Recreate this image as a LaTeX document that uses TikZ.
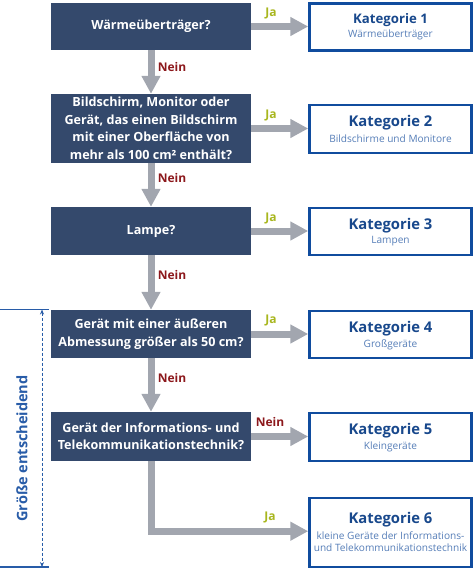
\documentclass[tikz,border=0pt]{standalone}
\usepackage{fontspec}
\setmainfont{Open Sans}
\usetikzlibrary{arrows.meta}
\definecolor{qfill}{RGB}{52,73,108}
\definecolor{agray}{RGB}{162,166,175}
\definecolor{kborder}{RGB}{16,76,158}
\definecolor{ktitle}{RGB}{24,72,140}
\definecolor{ksub}{RGB}{86,126,184}
\definecolor{jacol}{RGB}{168,182,30}
\definecolor{neincol}{RGB}{140,24,28}
\definecolor{sizecol}{RGB}{40,92,168}
\begin{document}
\begin{tikzpicture}[x=1pt,y=-1pt,
  qbox/.style={fill=qfill,text=white,minimum width=200pt,inner sep=0pt,align=center,
    font=\fontsize{12.6}{17.5}\selectfont\bfseries},
  kbox/.style={draw=kborder,line width=2.5pt,fill=white,minimum width=162pt,inner sep=0pt,align=center},
  ktit/.style={font=\fontsize{14.8}{16}\selectfont\bfseries,text=ktitle},
  ksubt/.style={text=ksub,font=\fontsize{10.1}{12.5}\selectfont,align=center},
  flow/.style={draw=agray,line width=7pt,-{Triangle[width=18pt,length=18pt]}},
  jalab/.style={text=jacol,font=\fontsize{12}{14}\selectfont\bfseries},
  neinlab/.style={text=neincol,font=\fontsize{12}{14}\selectfont\bfseries}]
\useasboundingbox (0,0) rectangle (474,573);
% question boxes
\node[qbox,minimum height=47pt] (q1) at (151,26.5) {Wärmeüberträger?};
\node[qbox,minimum height=69pt] (q2) at (151,128.5) {Bildschirm, Monitor oder\\Gerät, das einen Bildschirm\\mit einer Oberfläche von\\mehr als 100 cm² enthält?};
\node[qbox,minimum height=48pt] (q3) at (151,231) {Lampe?};
\node[qbox,minimum height=48pt] (q4) at (151,334) {Gerät mit einer äußeren\\Abmessung größer als 50 cm?};
\node[qbox,minimum height=49pt] (q5) at (151,436.5) {Gerät der Informations- und\\Telekommunikationstechnik?};
% category boxes
\node[kbox,minimum height=47pt] (k1) at (390.5,27) {};
\node[kbox,minimum height=48pt] (k2) at (390.5,129) {};
\node[kbox,minimum height=47pt] (k3) at (390.5,231.5) {};
\node[kbox,minimum height=47pt] (k4) at (390.5,334.5) {};
\node[kbox,minimum height=48pt] (k5) at (390.5,437) {};
\node[kbox,minimum height=69pt] (k6) at (390.5,532.5) {};
\node[ktit,font=\fontsize{13.2}{14}\selectfont\bfseries] (t1) at (390.5,20) {Kategorie 1};
\node[ksubt] (s1) at (390.5,34.5) {Wärmeüberträger};
\node[ktit] (t2) at (390.5,123) {Kategorie 2};
\node[ksubt] (s2) at (390.5,138.5) {Bildschirme und Monitore};
\node[ktit] (t3) at (390.5,226) {Kategorie 3};
\node[ksubt] (s3) at (390.5,241.5) {Lampen};
\node[ktit] (t4) at (390.5,329) {Kategorie 4};
\node[ksubt] (s4) at (390.5,344.5) {Großgeräte};
\node[ktit] (t5) at (390.5,431) {Kategorie 5};
\node[ksubt] (s5) at (390.5,446.5) {Kleingeräte};
\node[ktit] (t6) at (390.5,519.5) {Kategorie 6};
\node[ksubt] (s6) at (390.5,541.5) {kleine Geräte der Informations-\\und Telekommunikationstechnik};
% horizontal arrows
\draw[flow] (q1.east) -- (k1.west |- q1.east);
\draw[flow] (q2.east) -- (k2.west |- q2.east);
\draw[flow] (q3.east) -- (k3.west |- q3.east);
\draw[flow] (q4.east) -- (k4.west |- q4.east);
\draw[flow] (q5.east) -- (k5.west |- q5.east);
\draw[flow] (q5.south) -- ++(0,70) coordinate (c6) -- (k6.west |- c6);
% vertical arrows
\draw[flow] (q1.south) -- (q2.north);
\draw[flow] (q2.south) -- (q3.north);
\draw[flow] (q3.south) -- (q4.north);
\draw[flow] (q4.south) -- (q5.north);
% labels
\node[jalab] (j1) at (271,13) {Ja};
\node[jalab] (j2) at (271,115) {Ja};
\node[jalab] (j3) at (271,218) {Ja};
\node[jalab] (j4) at (271,320) {Ja};
\node[neinlab] (n5) at (270,422) {Nein};
\node[jalab] (j6) at (270,517) {Ja};
\node[neinlab] (n1) at (172,67) {Nein};
\node[neinlab] (n2) at (172,178) {Nein};
\node[neinlab] (n3) at (172,275) {Nein};
\node[neinlab] (n4) at (172,378) {Nein};
% size bracket
\coordinate (bt0) at (0,309.5);
\coordinate (bt1) at (49,309.5);
\coordinate (bb0) at (0,567);
\coordinate (bb1) at (49,567);
\coordinate (dt) at (42,309.5);
\coordinate (db) at (42,567);
\draw[sizecol,line width=1.2pt] (bt0) -- (bt1);
\draw[sizecol,line width=1.2pt] (bb0) -- (bb1);
\draw[sizecol,line width=0.8pt,dash pattern=on 3pt off 2pt,{Stealth[length=5pt,width=4pt]}-{Stealth[length=5pt,width=4pt]}] (dt) -- (db);
\node[rotate=90,text=sizecol,font=\fontsize{14.5}{16}\selectfont\bfseries] (gs) at (22,448.5) {Größe entscheidend};
\end{tikzpicture}
\end{document}
